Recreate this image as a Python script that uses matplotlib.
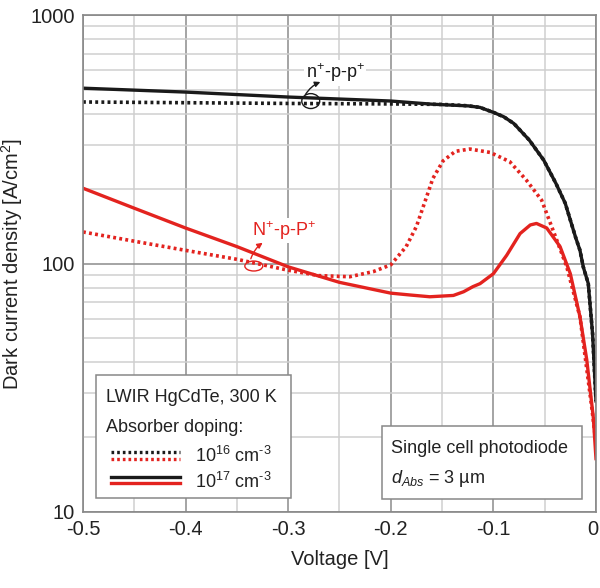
import numpy as np
import matplotlib.pyplot as plt
import matplotlib.transforms as mtransforms
from matplotlib.patches import Ellipse, Rectangle

plt.rcParams['font.family'] = ['Liberation Sans', 'DejaVu Sans']
plt.rcParams['mathtext.fontset'] = 'custom'
plt.rcParams['mathtext.rm'] = 'Liberation Sans'
plt.rcParams['mathtext.it'] = 'Liberation Sans:italic'

# voltage [V] and dark current density [A/cm^2]
v_black_17 = [-0.5, -0.4, -0.3, -0.2, -0.16, -0.124, -0.113, -0.1, -0.09, -0.08, -0.065, -0.051, -0.039,
              -0.03, -0.02, -0.0156, -0.0124, -0.0075, -0.0033, 0.0]
j_black_17 = [508, 490, 468, 451, 438, 431, 425, 406, 390, 366, 314, 261, 210,
              175, 128, 113, 97, 83, 52, 28]

v_black_16 = [-0.5, -0.4, -0.3, -0.2, -0.15, -0.13, -0.124, -0.113, -0.1, -0.09, -0.08, -0.065, -0.051, -0.039,
              -0.03, -0.02, -0.0156, -0.0124, -0.0075, -0.0033, 0.0]
j_black_16 = [447, 444, 441, 439, 437, 433, 431, 425, 406, 390, 366, 314, 261, 210,
              175, 128, 113, 97, 83, 52, 28]

v_red_17 = [-0.5, -0.45, -0.4, -0.35, -0.3, -0.25, -0.2, -0.181, -0.162, -0.139, -0.129, -0.12, -0.113, -0.1,
            -0.087, -0.074, -0.064, -0.058, -0.048, -0.035, -0.025, -0.0156, -0.009, -0.0026, 0.0]
j_red_17 = [201, 167, 139, 117, 97, 84, 76, 74.7, 73.5, 74.4, 77, 80.7, 83, 91,
            108, 132, 143, 145, 139, 117, 91, 61, 41, 24, 16.4]

v_red_16 = [-0.5, -0.45, -0.4, -0.35, -0.3, -0.27, -0.24, -0.217, -0.2, -0.185, -0.175, -0.165,
            -0.159, -0.149, -0.137, -0.123, -0.103, -0.084, -0.068, -0.053, -0.04, -0.0285,
            -0.0156, -0.0042, 0.0]
j_red_16 = [134, 123, 113, 104, 94, 89.4, 88.5, 92.8, 98.8, 117, 141, 186,
            220, 259, 283, 289, 280, 257, 217, 180, 130, 97,
            61, 26.5, 19]

x_ticks = [-0.5, -0.4, -0.3, -0.2, -0.1, 0.0]
x_tick_labels = ['-0.5', '-0.4', '-0.3', '-0.2', '-0.1', '0']
y_ticks = [10, 100, 1000]
y_tick_labels = ['10', '100', '1000']

BLACK = '#1a1a1a'
RED = '#e3231f'
TXT = '#222222'
DOTS = (0, (0.8, 0.9))

fig = plt.figure(figsize=(6.0, 5.88), dpi=100)
ax = fig.add_axes([0.1383, 0.1293, 0.855, 0.845])

ax.set_yscale('log')
ax.set_xlim(-0.5, 0.0)
ax.set_ylim(10, 1000)

# grid: light minor, darker major
ax.set_xticks(x_ticks)
ax.set_xticklabels(x_tick_labels)
ax.set_xticks(np.arange(-0.45, 0, 0.1), minor=True)
ax.set_yticks(y_ticks)
ax.set_yticklabels(y_tick_labels)
ax.yaxis.set_minor_formatter(plt.NullFormatter())
ax.grid(True, which='major', color='#8c8c8c', lw=1.1)
ax.grid(True, which='minor', color='#cfcfcf', lw=1.1)
ax.tick_params(which='both', length=0, labelsize=14.5, colors=TXT, pad=6)
for sp in ax.spines.values():
    sp.set_color('#888888')
    sp.set_linewidth(1.2)
ax.set_axisbelow(True)

# keep the last x label inside the figure
last = ax.get_xticklabels()[-1]
last.set_transform(last.get_transform() + mtransforms.ScaledTranslation(-3 / 100, 0, fig.dpi_scale_trans))

ax.plot(v_black_16, j_black_16, color=BLACK, lw=2.6, ls=DOTS)
ax.plot(v_black_17, j_black_17, color=BLACK, lw=2.4)
ax.plot(v_red_16, j_red_16, color=RED, lw=2.6, ls=DOTS)
ax.plot(v_red_17, j_red_17, color=RED, lw=2.4)

ax.set_xlabel('Voltage [V]', fontsize=14.5, color=TXT, labelpad=8)
ax.set_ylabel('Dark current density [A/cm$^2$]', fontsize=14.5, color=TXT, labelpad=4)

# curve labels with loop and arrow
ax.text(-0.254, 585, 'n$^{+}$-p-p$^{+}$', fontsize=13, color=BLACK, ha='center', va='center',
        bbox=dict(facecolor='white', edgecolor='none', pad=1))
ax.add_patch(Ellipse((0.444, 0.827), 0.035, 0.03, transform=ax.transAxes,
                     fill=False, edgecolor=BLACK, lw=1))
ax.annotate('', xy=(-0.2661, 543), xytext=(-0.2846, 468),
            arrowprops=dict(arrowstyle='-|>', color=BLACK, lw=1, mutation_scale=8,
                            connectionstyle='arc3,rad=-0.2'))

ax.text(-0.304, 136, 'N$^{+}$-p-P$^{+}$', fontsize=13, color=RED, ha='center', va='center',
        bbox=dict(facecolor='white', edgecolor='none', pad=1))
ax.add_patch(Ellipse((0.333, 0.495), 0.035, 0.02, transform=ax.transAxes,
                     fill=False, edgecolor=RED, lw=1))
ax.annotate('', xy=(-0.3226, 123), xytext=(-0.3372, 102),
            arrowprops=dict(arrowstyle='-|>', color=RED, lw=1, mutation_scale=8,
                            connectionstyle='arc3,rad=-0.2'))

# legend box (left)
ax.add_patch(Rectangle((0.025, 0.028), 0.381, 0.248, transform=ax.transAxes,
                       facecolor='white', edgecolor='#888888', lw=1.1, zorder=5))
ax.text(0.045, 0.231, 'LWIR HgCdTe, 300 K', transform=ax.transAxes, fontsize=13,
        va='center', ha='left', color=TXT, zorder=6)
ax.text(0.045, 0.171, 'Absorber doping:', transform=ax.transAxes, fontsize=13,
        va='center', ha='left', color=TXT, zorder=6)
ax.plot([0.054, 0.189], [0.121, 0.121], transform=ax.transAxes, color=BLACK, lw=2.4, ls=DOTS, zorder=6)
ax.plot([0.054, 0.189], [0.107, 0.107], transform=ax.transAxes, color=RED, lw=2.4, ls=DOTS, zorder=6)
ax.plot([0.054, 0.189], [0.070, 0.070], transform=ax.transAxes, color=BLACK, lw=2.4, zorder=6)
ax.plot([0.054, 0.189], [0.058, 0.058], transform=ax.transAxes, color=RED, lw=2.4, zorder=6)
ax.text(0.218, 0.112, '10$^{16}$ cm$^{\\text{-3}}$', transform=ax.transAxes, fontsize=13,
        va='center', ha='left', color=TXT, zorder=6)
ax.text(0.218, 0.061, '10$^{17}$ cm$^{\\text{-3}}$', transform=ax.transAxes, fontsize=13,
        va='center', ha='left', color=TXT, zorder=6)

# legend box (right)
ax.add_patch(Rectangle((0.582, 0.026), 0.391, 0.147, transform=ax.transAxes,
                       facecolor='white', edgecolor='#888888', lw=1.1, zorder=5))
ax.text(0.601, 0.127, 'Single cell photodiode', transform=ax.transAxes, fontsize=13,
        va='center', ha='left', color=TXT, zorder=6)
ax.text(0.601, 0.068, '$d_{Abs}$ = 3 µm', transform=ax.transAxes, fontsize=13,
        va='center', ha='left', color=TXT, zorder=6)

fig.savefig('out.png', dpi=100)
